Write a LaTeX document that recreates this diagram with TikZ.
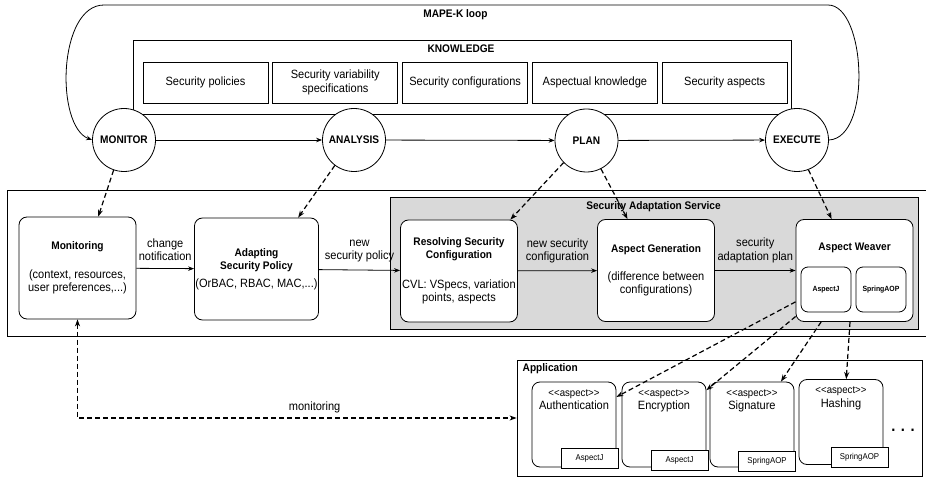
\documentclass[tikz,border=0pt]{standalone}
\usepackage{fontspec}
\setmainfont{Liberation Sans}[FakeStretch=0.92]
\usepackage{tikz}
\usetikzlibrary{positioning,arrows.meta}

\newcommand{\heavy}{\bfseries\fontsize{11}{13.5}\selectfont}
\newcommand{\stereo}[1]{<\kern0pt<#1>\kern0pt>}

\tikzset{
  phase/.style={draw, circle, fill=white, minimum size=63pt, inner sep=0pt, font=\bfseries\fontsize{11}{13}\selectfont},
  know/.style={draw, minimum width=125pt, minimum height=41pt, align=center, inner sep=1pt},
  block/.style={draw, rounded corners=8pt, fill=white, align=center, minimum width=117pt, minimum height=102pt, inner sep=1pt},
  weave/.style={draw, rounded corners=7pt, fill=white, minimum width=50pt, minimum height=45pt, inner sep=1pt, font=\bfseries\fontsize{7.5}{9}\selectfont},
  aspbox/.style={draw, rounded corners=8pt, fill=white, minimum width=84pt, minimum height=85pt},
  tag/.style={draw, fill=white, minimum width=57pt, minimum height=20pt, inner sep=1pt, font=\fontsize{8.5}{10}\selectfont},
  stereotype/.style={anchor=north, align=center, yshift=-4pt, font=\fontsize{12}{13.5}\selectfont},
  heading/.style={font=\heavy},
  flow/.style={-{Stealth[length=6pt,width=4.5pt]}, line width=0.8pt},
  dashflow/.style={-{Stealth[length=7pt,width=5pt]}, line width=1.2pt, dash pattern=on 5pt off 3pt},
}

\begin{document}
\begin{tikzpicture}[x=1pt, y=-1pt, line width=0.8pt, font=\fontsize{12}{13.5}\selectfont]
  \useasboundingbox (0,0) rectangle (926,478);

  % containers
  \draw (930,190) -| (7,336) -- (930,336);
  \node[draw, fill=black!15, minimum width=528pt, minimum height=132pt] (sas) at (654,263) {};
  \node[heading] (sastitle) at (653.5,207) {Security Adaptation Service};
  \node[draw, minimum width=405pt, minimum height=116pt] (app) at (719.5,418) {};
  \node[heading, anchor=west] (apptitle) at (519,369) {Application};

  % knowledge
  \node[draw, minimum width=658pt, minimum height=74pt] (kb) at (462,77) {};
  \node[heading] (kbtitle) at (461,49) {KNOWLEDGE};
  \node[know] (k1) at (205.5,82.5) {Security policies};
  \node[know, right=4pt of k1] (k2) {Security variability\\specifications};
  \node[know, right=4pt of k2] (k3) {Security configurations};
  \node[know, right=4pt of k3] (k4) {Aspectual knowledge};
  \node[know, right=4pt of k4] (k5) {Security aspects};

  % MAPE-K loop
  \node[heading] (looptitle) at (455.5,15) {MAPE-K loop};
  \node[phase] (mon) at (124,140) {MONITOR};
  \node[phase] (ana) at (354,140) {ANALYSIS};
  \node[phase] (pla) at (586.5,140.5) {PLAN};
  \node[phase] (exe) at (797,140) {EXECUTE};
  \draw[flow] (mon) -- (ana);
  \draw[flow] (ana) -- (pla);
  \draw[flow] (pla) -- (exe);
  \draw[flow] (exe.east) .. controls (872,138) and (866,5) .. (828,5) -- (104,5)
    .. controls (58,5) and (55,126) .. (mon.west);

  % adaptation chain
  \node[block] (mbox) at (77.5,268) {{\heavy Monitoring}\\[15pt](context, resources,\\user preferences,...)};
  \node[block] (apol) at (256.5,269) {{\heavy Adapting}\\{\heavy Security Policy}\\[4pt](OrBAC, RBAC, MAC,...)};
  \node[block] (rconf) at (459,271) {{\heavy Resolving Security}\\{\heavy Configuration}\\[16pt]CVL: VSpecs, variation\\points, aspects};
  \node[block] (agen) at (656,270.5) {{\heavy Aspect Generation}\\[14pt](difference between\\configurations)};
  \node[block] (weaver) at (854.5,270.5) {};
  \node[heading, below=20pt of weaver.north] (wtitle) {Aspect Weaver};
  \node[weave] (wj) at (826,289.5) {AspectJ};
  \node[weave] (wsp) at (881,289.5) {SpringAOP};

  \draw[flow] (mbox) -- node[above=4pt, align=center] {change\\notification} (apol);
  \draw[flow] (apol) -- node[above=4pt, align=center] {new\\security policy} (rconf);
  \draw[flow] (rconf) -- node[above=4pt, align=center] {new security\\configuration} (agen);
  \draw[flow] (agen) -- node[above=4pt, align=center] {security\\adaptation plan} (weaver);

  % application aspects
  \node[aspbox, label={[stereotype]north:{{\fontsize{10.5}{12}\selectfont\stereo{aspect}}\\Authentication}}] (a1) at (574,424.5) {};
  \node[aspbox, label={[stereotype]north:{{\fontsize{10.5}{12}\selectfont\stereo{aspect}}\\Encryption}}] (a2) at (664,424.5) {};
  \node[aspbox, label={[stereotype]north:{{\fontsize{10.5}{12}\selectfont\stereo{aspect}}\\Signature}}] (a3) at (752,424.5) {};
  \node[aspbox, label={[stereotype]north:{{\fontsize{10.5}{12}\selectfont\stereo{aspect}}\\Hashing}}] (a4) at (841,422) {};
  \node[tag] (t1) at (589.5,458) {AspectJ};
  \node[tag] (t2) at (679.5,460) {AspectJ};
  \node[tag] (t3) at (767,461) {SpringAOP};
  \node[tag] (t4) at (859.5,457) {SpringAOP};
  \node[font=\bfseries\fontsize{16}{16}\selectfont] (more) at (903,430) {. . .};

  % dashed links
  \draw[dashflow] (mon.251) -- (mbox.68);
  \draw[dashflow] (ana.233) -- (apol.51);
  \draw[dashflow] (pla.224) -- (rconf.45);
  \draw[dashflow] (pla.297) -- (agen.119);
  \draw[dashflow] (exe.291) -- (weaver.114);
  \draw[dashflow] (weaver.208) -- (a1.33);
  \draw[dashflow] (weaver.218) -- (a2.39);
  \draw[dashflow] (weaver.237) -- (a3.56);
  \draw[dashflow] (weaver.265) -- (a4.83);
  \draw[dashflow, {Stealth[length=7pt,width=5pt]}-{Stealth[length=7pt,width=5pt]}] (mbox.south) |- node[pos=0.77, above=1pt] {monitoring} (app.west);
\end{tikzpicture}
\end{document}
